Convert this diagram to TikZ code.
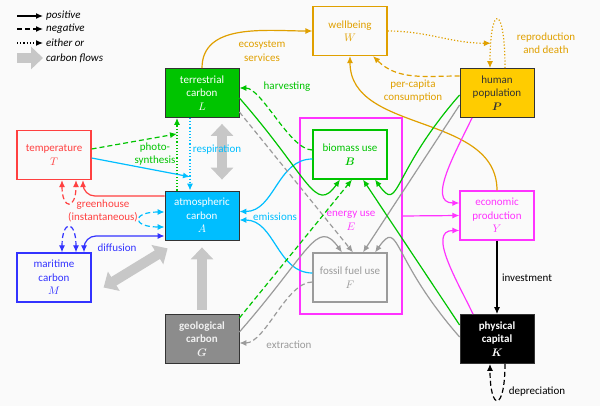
\documentclass[tikz,border=0pt]{standalone}
\usepackage{bm}
\usepackage{fontspec}
\setmainfont{Carlito}
\usetikzlibrary{arrows.meta}

\definecolor{wcol}{RGB}{224,160,0}
\definecolor{lcol}{RGB}{0,196,0}
\definecolor{pcol}{RGB}{255,204,0}
\definecolor{tcol}{RGB}{255,64,64}
\definecolor{acol}{RGB}{0,190,255}
\definecolor{ycol}{RGB}{255,51,255}
\definecolor{mcol}{RGB}{51,51,255}
\definecolor{gcol}{RGB}{140,140,140}
\definecolor{fcol}{RGB}{155,155,155}
\definecolor{bgcol}{RGB}{250,250,250}

\begin{document}
\begin{tikzpicture}[x=1pt,y=1pt,
		font=\fontsize{11}{13.5}\selectfont,
		box/.style={draw,fill=bgcol,line width=1.2pt,minimum width=74pt,minimum height=49pt,align=center,inner sep=1pt},
		solidbox/.style={box,draw=black!80,line width=0.8pt},
		link/.style={line width=1.2pt,-{Latex[length=7pt,width=6pt]}},
		twolink/.style={link,{Latex[length=7pt,width=6pt]}-{Latex[length=7pt,width=6pt]}},
		flow/.style={line width=10pt,draw=black!22,-{Triangle[length=12pt,width=22pt]}},
		twoflow/.style={flow,{Triangle[length=12pt,width=22pt]}-{Triangle[length=12pt,width=22pt]}},
		neg/.style={dash pattern=on 5pt off 3pt},
		lab/.style={align=center,inner sep=1pt},
		legtext/.style={anchor=west,inner sep=0pt,font=\fontsize{11}{13}\selectfont\itshape}
	]
	\fill[bgcol] (0,0) rectangle (600,-406);
	\useasboundingbox (0,0) rectangle (600,-406);

	% legend
	\draw[link] (17,-16) -- (43,-16);
	\draw[link,neg] (17,-29) -- (43,-29);
	\draw[link,dotted] (17,-43) -- (43,-43);
	\draw[flow] (17,-58) -- (43,-58);
	\node[legtext] (legpos) at (46,-16) {positive};
	\node[legtext] (legneg) at (46,-29) {negative};
	\node[legtext] (legdot) at (46,-43) {either or};
	\node[legtext] (legflow) at (46,-58) {carbon flows};

	% stocks and sectors
	\node[draw=ycol,line width=1.2pt,minimum width=102pt,minimum height=196pt] (E) at (351,-216) {};
	\node[lab,text=ycol] (Etext) at ([yshift=-5pt]E.center) {energy use\\$E$};
	\node[box,draw=wcol,text=wcol] (W) at (350,-31) {wellbeing\\$W$};
	\node[solidbox,fill=lcol,text=white] (L) at (202,-93) {terrestrial\\carbon\\$L$};
	\node[solidbox,fill=pcol,text=black!80] (P) at (497,-93) {human\\population\\$\bm{P}$};
	\node[box,draw=tcol,text=tcol] (T) at (54,-155) {temperature\\$T$};
	\node[box,draw=lcol,text=lcol] (B) at (350,-154.5) {biomass use\\$\bm{B}$};
	\node[box,draw=fcol,text=fcol] (F) at (350,-277.5) {fossil fuel use\\$F$};
	\node[solidbox,fill=acol,text=white] (A) at (202,-215.5) {atmospheric\\carbon\\$A$};
	\node[box,draw=ycol,text=ycol] (Y) at (497,-215.5) {economic\\production\\$Y$};
	\node[box,draw=mcol,text=mcol] (M) at (54,-277.5) {maritime\\carbon\\$M$};
	\node[solidbox,fill=gcol,text=black!6,font=\fontsize{11}{13.5}\selectfont\bfseries] (G) at (202,-339) {geological\\carbon\\$\bm{G}$};
	\node[solidbox,fill=black,text=white,font=\fontsize{11}{13.5}\selectfont\bfseries] (K) at (497,-339) {physical\\capital\\$\bm{K}$};

	% carbon flows
	\draw[twoflow] ([xshift=20pt,yshift=-6pt]L.south) -- ([xshift=20pt,yshift=11pt]A.north);
	\draw[twoflow] ([xshift=12pt,yshift=-10pt]M.east) -- ([xshift=3pt,yshift=-8pt]A.south west);
	\draw[flow] ([yshift=4pt]G.north) -- ([yshift=-7pt]A.south);

	% wellbeing and population
	\draw[link,wcol] (L.north) to[out=90,in=180] (W.west);
	\draw[link,wcol,neg] ([yshift=17pt]P.west) to[out=180,in=-45] ([xshift=23pt]W.south);
	\draw[link,wcol] (Y.north) to[out=90,in=-90] (W.south);
	\draw[link,wcol,dotted] ([xshift=8pt]P.north) .. controls +(0,65) and +(0,65) .. coordinate[pos=0.85] (repro) ([xshift=-7pt]P.north);
	\draw[link,wcol,dotted] (W.east) to[out=0,in=180] (repro);

	% land and atmosphere
	\draw[link,lcol,neg] ([yshift=4.5pt]B.west) to[out=180,in=0,looseness=0.6] ([yshift=5pt]L.east);
	\draw[link,lcol,dotted] ([xshift=-25pt]A.north) -- coordinate[pos=0.78] (photo) ([xshift=-25pt]L.south);
	\draw[link,lcol,neg] ([yshift=6pt]T.east) -- (photo);
	\draw[link,acol,dotted] ([xshift=-12pt]L.south) -- coordinate[pos=0.81] (resp) ([xshift=-12pt]A.north);
	\draw[link,acol] ([yshift=-3pt]T.east) -- (resp);

	% climate
	\draw[link,tcol,rounded corners=12pt] ([yshift=19.5pt]A.west) -| ([xshift=29pt]T.south);
	\draw[twolink,tcol,neg] ([xshift=8pt]T.south) .. controls +(0,-30) and +(0,-30) .. ([xshift=22pt]T.south);
	\draw[twolink,acol,neg] ([yshift=3.5pt]A.west) .. controls +(-33,0) and +(-33,0) .. ([yshift=-11.5pt]A.west);
	\draw[twolink,mcol,neg] ([xshift=8pt]M.north) .. controls +(0,33) and +(0,33) .. ([xshift=22pt]M.north);
	\draw[twolink,mcol,rounded corners=12pt] ([xshift=30pt]M.north) |- ([yshift=-20.5pt]A.west);

	% emissions and extraction
	\draw[link,acol] ([yshift=-4.5pt]B.west) to[out=180,in=0] ([yshift=4pt]A.east);
	\draw[link,acol] ([yshift=4.5pt]F.west) to[out=180,in=0] ([yshift=-4.5pt]A.east);
	\draw[link,fcol,neg] ([yshift=-4.5pt]F.west) to[out=180,in=0,looseness=0.7] ([yshift=-4pt]G.east);

	% inputs to energy use
	\draw[link,lcol] ([yshift=-5pt]L.east) .. controls +(70,-80) and +(-25,-35) .. ([xshift=-10pt]B.south);
	\draw[link,lcol] ([yshift=-2pt]P.west) .. controls +(-70,-80) and +(25,-35) .. ([xshift=25pt]B.south);
	\draw[link,fcol] ([yshift=7pt]G.east) .. controls +(70,80) and +(-25,35) .. ([xshift=-8pt]F.north);
	\draw[link,fcol] ([yshift=2pt]K.west) .. controls +(-70,80) and +(25,35) .. ([xshift=25pt]F.north);
	\draw[link,fcol,neg] ([yshift=-19pt]L.east) -- ([xshift=3pt]F.north);
	\draw[link,lcol,neg] ([yshift=21pt]G.east) -- ([xshift=2pt]B.south);
	\draw[link,fcol] ([yshift=-12pt]P.west) -- ([xshift=13pt]F.north);
	\draw[link,lcol] ([yshift=14pt]K.west) -- ([xshift=13pt]B.south);

	% economy
	\draw[link,ycol] (E.east) -- (Y.west);
	\draw[link,ycol] ([xshift=-25pt]P.south) to[out=-115,in=180] ([yshift=12.5pt]Y.west);
	\draw[link,ycol] ([xshift=-24pt]K.north) to[out=115,in=180] ([yshift=-15pt]Y.west);
	\draw[link] (Y.south) -- (K.north);
	\draw[link,neg] ([xshift=8pt]K.south) .. controls +(0,-48) and +(0,-48) .. ([xshift=-7pt]K.south);

	% labels
	\node[lab,text=wcol] (ecolab) at (262,-51) {ecosystem\\services};
	\node[lab,text=wcol] (conslab) at (413,-91) {per-capita\\consumption};
	\node[lab,text=wcol] (replab) at (546,-43) {reproduction\\and death};
	\node[lab,text=lcol] (harvlab) at (287,-87) {harvesting};
	\node[lab,text=lcol] (photolab) at (155,-154) {photo-\\synthesis};
	\node[lab,text=acol] (resplab) at (217,-150) {respiration};
	\node[lab,text=tcol] (ghlab) at (103,-211) {greenhouse\\(instantaneous)};
	\node[lab,text=mcol] (difflab) at (117,-248) {diffusion};
	\node[lab,text=acol] (emlab) at (275,-217) {emissions};
	\node[lab,text=fcol] (extlab) at (289,-345) {extraction};
	\node[lab] (invlab) at (527,-278) {investment};
	\node[lab] (deplab) at (537,-392) {depreciation};
\end{tikzpicture}
\end{document}
